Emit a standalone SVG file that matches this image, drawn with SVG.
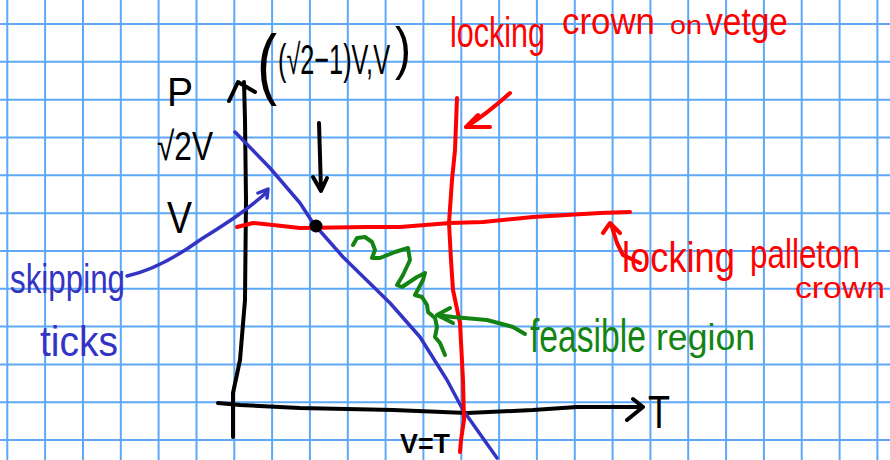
<svg xmlns="http://www.w3.org/2000/svg" width="890" height="460" viewBox="0 0 890 460">
<style>
.grid{stroke:#5ea8f7;stroke-width:2;fill:none}
.ink{fill:none;stroke-linecap:round;stroke-linejoin:round}
.k{stroke:#000;stroke-width:4}
.r{stroke:#ff0000;stroke-width:4}
.b{stroke:#3434c4;stroke-width:3.5}
.g{stroke:#138413;stroke-width:4}
text{font-family:"Liberation Sans","DejaVu Sans",sans-serif}
.tk{fill:#000}
.tr{fill:#ff0000}
.tb{fill:#3434c4}
.tg{fill:#138413}
</style>
<rect width="890" height="460" fill="#ffffff"/>
<g id="grid" class="grid">
<path d="M7.3 0V460M45.1 0V460M83 0V460M120.8 0V460M158.6 0V460M196.5 0V460M234.3 0V460M272.1 0V460M309.9 0V460M347.8 0V460M385.6 0V460M423.4 0V460M461.3 0V460M499.1 0V460M536.9 0V460M574.8 0V460M612.6 0V460M650.4 0V460M688.2 0V460M726.1 0V460M763.9 0V460M801.7 0V460M839.6 0V460M877.4 0V460"/>
<path d="M0 24H890M0 61.8H890M0 99.7H890M0 137.5H890M0 175.3H890M0 213.2H890M0 251H890M0 288.8H890M0 326.6H890M0 364.5H890M0 402.3H890M0 440.1H890"/>
</g>
<g id="connectors">
<path id="y-axis" class="ink k" d="M240 360L245 300L246 200L245 120L244 82M229 101L238 82L255 92M233 437L233 393L240 360"/>
<path id="x-axis" class="ink k" d="M218 403L240 405L300 408L393 410L467 413L533 410L577 407L643 407M633 399L643 407L627 420"/>
<path id="down-arrow" class="ink k" d="M319 123L321 190M313 177L321 191L327 178"/>
<path id="blue-curve" class="ink b" d="M235 132L270 168L300 203L313 223L343 257L390 303L420 337L447 380L463 410L497 458"/>
<path id="blue-arrow" class="ink b" d="M127 276C150 271 175 258 200 240C222 226 245 212 267 192M258 193L268 189L267 198"/>
<path id="red-horizontal" class="ink r" d="M237 227L253 223L273 225L300 228L367 227L400 227L450 223L483 222L533 217L600 213L630 212"/>
<path id="red-vertical" class="ink r" d="M457 98L455 150L452 180L449 223L451 260L453 290L460 323L463 380L464 420L461 440L460 452"/>
<path id="red-arrow-top" class="ink r" d="M510 93C500 102 485 115 466 127M478 115L466 127L490 127"/>
<path id="red-arrow-right" class="ink r" d="M640 263L623 255L617 243L611 224M603 233L610 223L620 233"/>
<path id="green-zigzag" class="ink g" d="M353 245L357 238L365 237L372 242L375 250L372 258L380 258L395 252L408 248L410 260L403 275L397 285L402 287L417 277L425 273L423 280L415 295L422 297L427 305L428 312L435 318L437 327L435 337L440 343L445 355"/>
<path id="green-arrow" class="ink g" d="M525 334L513 327L487 320L453 317L437 315M450 308L437 315L453 323"/>
<circle id="point" cx="316" cy="226" r="6.5" fill="#000"/>
</g>
<g id="label-P"><text class="tk" x="167" y="106" font-size="40" textLength="26" lengthAdjust="spacingAndGlyphs">P</text></g>
<g id="label-sqrt2V"><text class="tk" x="157" y="160" font-size="40" textLength="56" lengthAdjust="spacingAndGlyphs">√2V</text></g>
<g id="label-V"><text class="tk" x="167" y="233" font-size="44" textLength="25" lengthAdjust="spacingAndGlyphs">V</text></g>
<g id="label-point">
<text class="tk" x="257" y="90" font-size="78" textLength="20" lengthAdjust="spacingAndGlyphs">(</text>
<text class="tk" x="278" y="74" font-size="42" textLength="112" lengthAdjust="spacingAndGlyphs">(√2−1)V,V</text>
<text class="tk" x="395" y="68" font-size="58" textLength="16" lengthAdjust="spacingAndGlyphs">)</text>
</g>
<g id="label-VT"><text class="tk" x="400" y="453" font-size="28" font-weight="bold" textLength="50" lengthAdjust="spacingAndGlyphs">V=T</text></g>
<g id="label-T"><text class="tk" x="648" y="428" font-size="46" textLength="22" lengthAdjust="spacingAndGlyphs">T</text></g>
<g id="label-locking-crown-on-vetge">
<text class="tr" x="450" y="47" font-size="42" textLength="95" lengthAdjust="spacingAndGlyphs">locking</text>
<text class="tr" x="562" y="34" font-size="36" textLength="93" lengthAdjust="spacingAndGlyphs">crown</text>
<text class="tr" x="670" y="34" font-size="26" textLength="32" lengthAdjust="spacingAndGlyphs">on</text>
<text class="tr" x="706" y="35" font-size="38" textLength="82" lengthAdjust="spacingAndGlyphs">vetge</text>
</g>
<g id="label-locking-palleton-crown">
<text class="tr" x="622" y="272" font-size="42" textLength="113" lengthAdjust="spacingAndGlyphs">locking</text>
<text class="tr" x="750" y="268" font-size="40" textLength="110" lengthAdjust="spacingAndGlyphs">palleton</text>
<text class="tr" x="795" y="298" font-size="30" textLength="90" lengthAdjust="spacingAndGlyphs">crown</text>
</g>
<g id="label-feasible-region">
<text class="tg" x="530" y="352" font-size="46" textLength="116" lengthAdjust="spacingAndGlyphs">feasible</text>
<text class="tg" x="656" y="350" font-size="36" textLength="99" lengthAdjust="spacingAndGlyphs">region</text>
</g>
<g id="label-skipping-ticks">
<text class="tb" x="10" y="293" font-size="40" textLength="115" lengthAdjust="spacingAndGlyphs">skipping</text>
<text class="tb" x="40" y="356" font-size="42" textLength="78" lengthAdjust="spacingAndGlyphs">ticks</text>
</g>
</svg>
